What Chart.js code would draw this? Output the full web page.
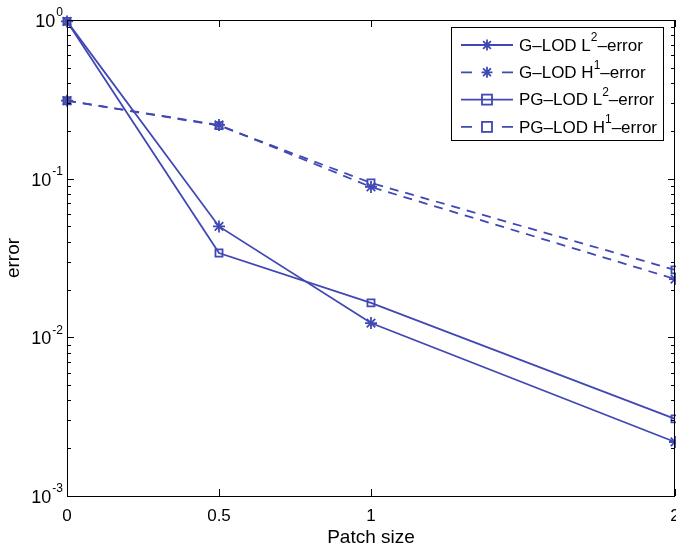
<!DOCTYPE html>
<html>
<head>
<meta charset="utf-8">
<script src="https://cdn.jsdelivr.net/npm/chart.js@4/dist/chart.umd.min.js"></script>
<style>
  html, body { margin: 0; padding: 0; background: #fff; }
  #wrap { width: 676px; height: 552px; }
</style>
</head>
<body>
<div id="wrap"><canvas id="chart" width="676" height="552"></canvas></div>
<script>
// data
const patchSizes = [0, 0.5, 1, 2];
const gL2 = [0.98, 0.050, 0.0123, 0.00219];
const gH1 = [0.31, 0.218, 0.0887, 0.0233];
const pgL2 = [0.98, 0.034, 0.0165, 0.00306];
const pgH1 = [0.31, 0.216, 0.094, 0.0266];

const xTicks = [0, 0.5, 1, 2];
const xTickLabels = ["0", "0.5", "1", "2"];
const yTicks = [1, 0.1, 0.01, 0.001];
const yTickExp = ["0", "-1", "-2", "-3"];

const DASH = [9, 7];
const legendItems = [
    { base: "G\u2013LOD L", sup: "2", rest: "\u2013error", dashed: false, marker: "star" },
    { base: "G\u2013LOD H", sup: "1", rest: "\u2013error", dashed: true, marker: "star" },
    { base: "PG\u2013LOD L", sup: "2", rest: "\u2013error", dashed: false, marker: "rect" },
    { base: "PG\u2013LOD H", sup: "1", rest: "\u2013error", dashed: true, marker: "rect" }
];

const BLUE = "#4048b4";
const FONT = "'Liberation Sans', Arial, Helvetica, sans-serif";

function drawMarker(ctx, type, x, y) {
    ctx.save();
    ctx.strokeStyle = BLUE;
    ctx.lineWidth = 1.8;
    ctx.setLineDash([]);
    ctx.beginPath();
    if (type === "star") {
        const r = 5.5;
        for (let i = 0; i < 4; i++) {
            const a = i * Math.PI / 4;
            ctx.moveTo(x - r * Math.cos(a), y - r * Math.sin(a));
            ctx.lineTo(x + r * Math.cos(a), y + r * Math.sin(a));
        }
        ctx.stroke();
    } else {
        ctx.strokeRect(x - 5, y - 5, 10, 10);
    }
    ctx.restore();
}

const matlabFrame = {
    id: "matlabFrame",
    afterDraw(chart) {
        const ctx = chart.ctx;
        const a = chart.chartArea;
        const xs = chart.scales.x, ys = chart.scales.y;
        ctx.save();
        ctx.strokeStyle = "#000";
        ctx.lineWidth = 1;
        ctx.setLineDash([]);
        ctx.strokeRect(a.left + 0.5, a.top + 0.5, a.right - a.left - 1, a.bottom - a.top);

        // x ticks, top and bottom
        ctx.beginPath();
        xTicks.forEach(v => {
            const px = Math.round(xs.getPixelForValue(v)) + 0.5;
            ctx.moveTo(px, a.bottom); ctx.lineTo(px, a.bottom - 7);
            ctx.moveTo(px, a.top); ctx.lineTo(px, a.top + 7);
        });
        // y ticks, major and minor, left and right
        for (let e = -3; e <= 0; e++) {
            for (let m = 1; m <= 9; m++) {
                const v = m * Math.pow(10, e);
                if (v > 1.0001) break;
                const py = Math.round(ys.getPixelForValue(v)) + 0.5;
                const len = m === 1 ? 7 : 4;
                ctx.moveTo(a.left, py); ctx.lineTo(a.left + len, py);
                ctx.moveTo(a.right, py); ctx.lineTo(a.right - len, py);
            }
        }
        ctx.stroke();

        // tick labels
        ctx.fillStyle = "#000";
        ctx.font = "17px " + FONT;
        ctx.textAlign = "center";
        ctx.textBaseline = "top";
        xTicks.forEach((v, i) => {
            ctx.fillText(xTickLabels[i], xs.getPixelForValue(v), a.bottom + 12);
        });
        yTicks.forEach((v, i) => {
            const py = ys.getPixelForValue(v);
            ctx.font = "12px " + FONT;
            const sw = ctx.measureText(yTickExp[i]).width;
            ctx.textAlign = "right";
            ctx.textBaseline = "bottom";
            ctx.fillText(yTickExp[i], a.left - 4, py - 1);
            ctx.font = "18px " + FONT;
            ctx.textBaseline = "middle";
            ctx.fillText("10", a.left - 5 - sw, py + 2);
        });

        // axis titles
        ctx.textAlign = "center";
        ctx.textBaseline = "middle";
        ctx.font = "19px " + FONT;
        ctx.fillText("Patch size", (a.left + a.right) / 2, 538);
        ctx.save();
        ctx.translate(14, (a.top + a.bottom) / 2);
        ctx.rotate(-Math.PI / 2);
        ctx.fillText("error", 0, 0);
        ctx.restore();

        // legend box
        const lx = 451, ly = 27, lw = 212, lh = 113;
        ctx.fillStyle = "#fff";
        ctx.fillRect(lx, ly, lw, lh);
        ctx.strokeStyle = "#000";
        ctx.strokeRect(lx + 0.5, ly + 0.5, lw, lh);
        legendItems.forEach((it, i) => {
            const y = 45 + i * 27.3;
            ctx.strokeStyle = BLUE;
            ctx.lineWidth = 1.8;
            ctx.beginPath();
            if (it.dashed) {
                ctx.moveTo(461, y); ctx.lineTo(472, y);
                ctx.moveTo(502, y); ctx.lineTo(513, y);
            } else {
                ctx.moveTo(461, y); ctx.lineTo(513, y);
            }
            ctx.stroke();
            drawMarker(ctx, it.marker, 487, y);
            ctx.fillStyle = "#000";
            ctx.textAlign = "left";
            ctx.textBaseline = "middle";
            ctx.font = "17px " + FONT;
            let tx = 519;
            ctx.fillText(it.base, tx, y + 1);
            tx += ctx.measureText(it.base).width;
            ctx.font = "12px " + FONT;
            ctx.fillText(it.sup, tx, y - 7);
            tx += ctx.measureText(it.sup).width;
            ctx.font = "17px " + FONT;
            ctx.fillText(it.rest, tx, y + 1);
        });
        ctx.restore();
    }
};

function series(values, dash, marker) {
    return {
        data: patchSizes.map((x, i) => ({ x, y: values[i] })),
        borderColor: BLUE,
        backgroundColor: "transparent",
        borderWidth: 1.8,
        borderDash: dash,
        pointStyle: marker,
        pointRadius: marker === "star" ? 6 : 5,
        pointBorderWidth: 1.8,
        pointBorderColor: BLUE,
        pointBackgroundColor: "transparent",
        tension: 0,
        clip: false
    };
}

new Chart(document.getElementById("chart"), {
    type: "line",
    data: {
        datasets: [
            series(gL2, [], "star"),
            series(gH1, DASH, "star"),
            series(pgL2, [], "rect"),
            series(pgH1, DASH, "rect")
        ]
    },
    options: {
        responsive: false,
        animation: false,
        events: [],
        layout: { autoPadding: false, padding: { top: 20, right: 1, left: 0, bottom: 0 } },
        plugins: { legend: { display: false }, tooltip: { enabled: false } },
        scales: {
            x: {
                type: "linear", min: 0, max: 2,
                ticks: { display: false },
                grid: { display: false },
                border: { display: false },
                afterFit: s => { s.height = 56; }
            },
            y: {
                type: "logarithmic", min: 0.001, max: 1,
                ticks: { display: false },
                grid: { display: false },
                border: { display: false },
                afterFit: s => { s.width = 67; }
            }
        }
    },
    plugins: [matlabFrame]
});
</script>
</body>
</html>
